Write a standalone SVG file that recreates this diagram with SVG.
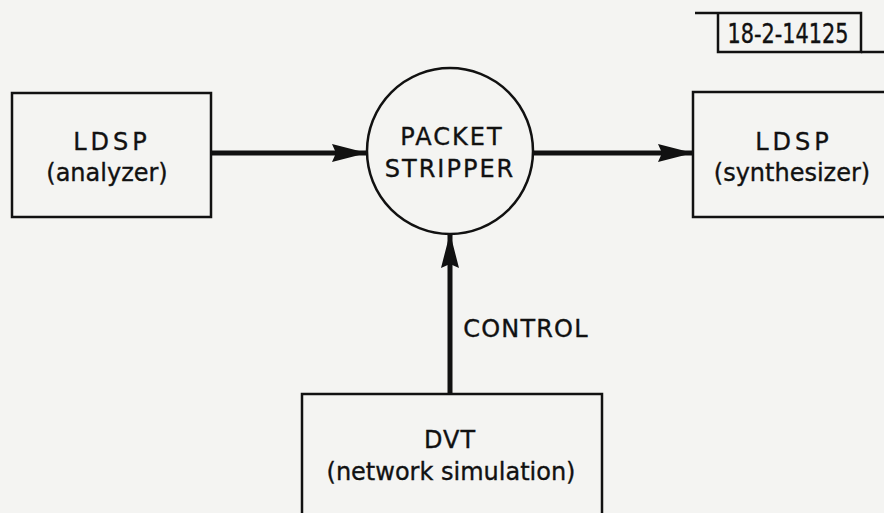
<svg xmlns="http://www.w3.org/2000/svg" width="884" height="513" viewBox="0 0 884 513">
<defs>
<style>
.bg{fill:#f4f4f2}
.box{fill:none;stroke:#111;stroke-width:2.5}
.conn{stroke:#111;stroke-width:5;fill:none}
.t{font-family:"DejaVu Sans",sans-serif;font-size:24px;fill:#111;stroke:#111;stroke-width:0.35;text-anchor:middle}
</style>
<marker id="ah" viewBox="0 0 35 18" refX="35" refY="9" markerWidth="35" markerHeight="18" orient="auto" markerUnits="userSpaceOnUse">
<path d="M0,0 L35,9 L0,18 L4,9 Z" fill="#111"/>
</marker>
</defs>
<rect class="bg" x="0" y="0" width="884" height="513"/>
<g id="label">
<polyline class="box" points="695,13 718,13 718,52 861,52 861,13 718,13"/>
<line class="box" x1="861" y1="52" x2="884" y2="52"/>
<text x="788" y="43" style="font-family:'DejaVu Sans Condensed','DejaVu Sans',sans-serif;font-size:26px;fill:#111;stroke:#111;stroke-width:0.35;text-anchor:middle" textLength="121" lengthAdjust="spacingAndGlyphs">18-2-14125</text>
</g>
<g id="connectors">
<line class="conn" x1="211" y1="153" x2="367" y2="153" marker-end="url(#ah)"/>
<line class="conn" x1="533" y1="153" x2="693" y2="153" marker-end="url(#ah)"/>
<line class="conn" x1="450" y1="394" x2="450" y2="233" marker-end="url(#ah)"/>
<text class="t" x="526" y="337" style="letter-spacing:1.2px">CONTROL</text>
</g>
<g id="analyzer">
<rect class="box" x="12" y="93" width="199" height="124"/>
<text class="t" x="112" y="150" style="letter-spacing:4px">LDSP</text>
<text class="t" x="107" y="181">(analyzer)</text>
</g>
<g id="stripper">
<circle class="box" cx="450" cy="151" r="83"/>
<text class="t" x="452" y="145" style="letter-spacing:2px">PACKET</text>
<text class="t" x="450" y="177" style="letter-spacing:2px">STRIPPER</text>
</g>
<g id="synthesizer">
<rect class="box" x="693" y="92" width="200" height="125"/>
<text class="t" x="794" y="150" style="letter-spacing:4px">LDSP</text>
<text class="t" x="792" y="181">(synthesizer)</text>
</g>
<g id="dvt">
<rect class="box" x="302" y="394" width="300" height="130"/>
<text class="t" x="450" y="448" style="letter-spacing:1px">DVT</text>
<text class="t" x="451" y="480">(network simulation)</text>
</g>
</svg>
